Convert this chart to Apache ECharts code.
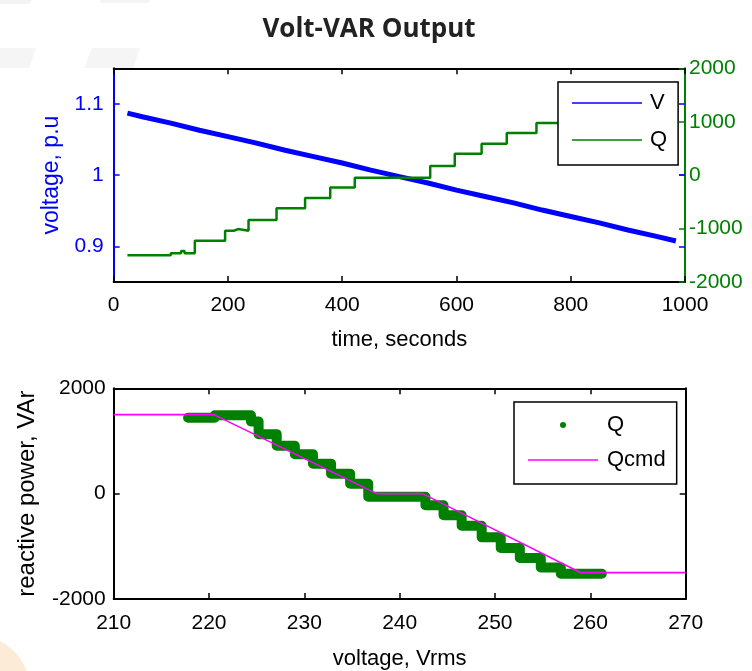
<!DOCTYPE html>
<html><head><meta charset="utf-8">
<script src="https://cdn.jsdelivr.net/npm/echarts@6/dist/echarts.min.js"></script>
<style>html,body{margin:0;padding:0;background:#fff}#chart{width:752px;height:671px}</style>
</head><body><div id="chart"></div>
<script>
// ---- Top plot: voltage (p.u.) and reactive power vs time ----
const vTime = [24, 50, 100, 150, 200, 250, 300, 350, 400, 450, 500, 550, 600, 650, 700, 750, 800, 850, 900, 950, 984];
const vPu   = [1.087, 1.082, 1.073, 1.063, 1.054, 1.045, 1.035, 1.026, 1.017, 1.007, 0.998, 0.989, 0.979, 0.970, 0.961, 0.951, 0.942, 0.933, 0.923, 0.914, 0.9075];
const qTime = [24, 100, 118, 124, 142, 195, 210, 218, 236, 285, 335, 379, 422, 554, 597, 644, 688, 740, 795, 850, 905, 950, 984];
const qVar  = [-1500, -1460, -1420, -1460, -1230, -1040, -1010, -1040, -840, -620, -430, -230, -50, 170, 400, 590, 790, 975, 1130, 1300, 1450, 1500, 1500];
const voltTicks = [0.9, 1, 1.1];

// ---- Bottom plot: Q vs voltage (Vrms) ----
const qStepFrom  = [261.2, 256.9, 254.8, 252.6, 250.6, 248.6, 246.5, 244.6, 242.7, 236.7, 234.8, 232.8, 230.9, 229.0, 227.1, 225.2, 224.4, 220.6];
const qStepTo    = [256.9, 254.8, 252.6, 250.6, 248.6, 246.5, 244.6, 242.7, 236.7, 234.8, 232.8, 230.9, 229.0, 227.1, 225.2, 224.4, 220.6, 217.8];
const qStepLevel = [-1520, -1400, -1220, -1030, -830, -610, -410, -220, -60, 190, 380, 570, 750, 910, 1130, 1370, 1490, 1440];
const qcmdVolt = [210, 220.5, 237.6, 242.4, 259.0, 270];
const qcmdVar  = [1500, 1500, 0, 0, -1500, -1500];

const BLUE = '#0000ff', GREEN = '#008000', MAG = '#ff00ff', BLACK = '#000000';
const FONT = 'Liberation Sans, Arial, sans-serif';
const LINE_ICON = 'path://M0,0H70V1.6H0Z';

const vData = vTime.map((t, i) => [t, vPu[i]]);
const qTopData = qTime.map((t, i) => [t, qVar[i]]);
const qBotData = [];
qStepLevel.forEach((lvl, i) => { qBotData.push([qStepFrom[i], lvl]); qBotData.push([qStepTo[i], lvl]); });
const qcmdData = qcmdVolt.map((v, i) => [v, qcmdVar[i]]);

const plain = v => String(v);
function tick(color) { return { show: true, inside: true, length: 6, lineStyle: { color: color, width: 1.5 } }; }
function label(color, margin) { return { color: color, fontSize: 21, fontFamily: FONT, margin: margin, formatter: plain }; }
function line(color) { return { onZero: false, lineStyle: { color: color, width: 2 } }; }
function nameStyle(color, size) { return { fontSize: size, fontFamily: FONT, color: color }; }

const option = {
  backgroundColor: '#ffffff',
  animation: false,
  title: {
    text: 'Volt-VAR Output', left: 364, top: 12, textAlign: 'center',
    textStyle: { fontSize: 26, fontWeight: 'bold', fontFamily: 'Open Sans, sans-serif', color: '#222222' }
  },
  graphic: [
    { type: 'circle', shape: { cx: -25, cy: 690, r: 55 }, style: { fill: '#fcebd6' }, silent: true, z: -10 },
    { type: 'polygon', shape: { points: [[0, 0], [32, 0], [29, 4], [0, 4]] }, style: { fill: '#f4f4f4' }, silent: true, z: -10 },
    { type: 'polygon', shape: { points: [[100, 0], [150, 0], [148, 3], [101, 3]] }, style: { fill: '#f4f4f4' }, silent: true, z: -10 },
    { type: 'polygon', shape: { points: [[0, 48], [36, 48], [29, 68], [0, 68]] }, style: { fill: '#f5f5f5' }, silent: true, z: -10 },
    { type: 'polygon', shape: { points: [[92, 48], [140, 48], [133, 68], [84, 68]] }, style: { fill: '#f5f5f5' }, silent: true, z: -10 }
  ],
  grid: [
    { left: 113.7, top: 68.3, width: 571.3, height: 213.7 },
    { left: 113.7, top: 388.3, width: 572, height: 213.4 }
  ],
  xAxis: [
    { gridIndex: 0, type: 'value', position: 'bottom', min: 0, max: 1000, interval: 200,
      axisLine: line(BLACK), axisTick: tick(BLACK), axisLabel: label(BLACK, 13),
      splitLine: { show: false },
      name: 'time, seconds', nameLocation: 'middle', nameGap: 47, nameTextStyle: nameStyle(BLACK, 22) },
    { gridIndex: 0, type: 'value', position: 'top', min: 0, max: 1000, interval: 200,
      axisLine: line(BLACK), axisTick: tick(BLACK), axisLabel: { show: false }, splitLine: { show: false } },
    { gridIndex: 1, type: 'value', position: 'bottom', min: 210, max: 270, interval: 10,
      axisLine: line(BLACK), axisTick: tick(BLACK), axisLabel: label(BLACK, 14),
      splitLine: { show: false },
      name: 'voltage, Vrms', nameLocation: 'middle', nameGap: 49, nameTextStyle: nameStyle(BLACK, 22) },
    { gridIndex: 1, type: 'value', position: 'top', min: 210, max: 270, interval: 10,
      axisLine: line(BLACK), axisTick: tick(BLACK), axisLabel: { show: false }, splitLine: { show: false } }
  ],
  yAxis: [
    { gridIndex: 0, type: 'value', position: 'left', min: 0.85, max: 1.15,
      axisLine: line(BLUE),
      axisTick: Object.assign(tick(BLUE), { customValues: voltTicks }),
      axisLabel: Object.assign(label(BLUE, 10), { customValues: voltTicks }),
      splitLine: { show: false },
      name: 'voltage, p.u', nameLocation: 'middle', nameGap: 50, nameTextStyle: nameStyle(BLUE, 23) },
    { gridIndex: 0, type: 'value', position: 'right', min: -2000, max: 2000, interval: 1000,
      axisLine: line(GREEN), axisTick: tick(GREEN), axisLabel: label(GREEN, 4), splitLine: { show: false } },
    { gridIndex: 0, type: 'value', position: 'right', min: 0.85, max: 1.15,
      axisLine: { show: false, onZero: false },
      axisTick: Object.assign(tick(BLUE), { customValues: voltTicks }),
      axisLabel: { show: false }, splitLine: { show: false } },
    { gridIndex: 1, type: 'value', position: 'left', min: -2000, max: 2000, interval: 2000,
      axisLine: line(BLACK), axisTick: tick(BLACK), axisLabel: label(BLACK, 8),
      splitLine: { show: false },
      name: 'reactive power, VAr', nameLocation: 'middle', nameGap: 74, nameTextStyle: nameStyle(BLACK, 24) },
    { gridIndex: 1, type: 'value', position: 'right', min: -2000, max: 2000, interval: 2000,
      axisLine: line(BLACK), axisTick: tick(BLACK), axisLabel: { show: false }, splitLine: { show: false } }
  ],
  legend: [
    { orient: 'vertical', left: 558, top: 82, padding: [10, 11, 14, 14], itemGap: 15,
      itemWidth: 70, itemHeight: 6, backgroundColor: '#fff', borderColor: BLACK, borderWidth: 1.5,
      selectedMode: false,
      textStyle: { fontSize: 22, fontFamily: FONT, color: BLACK, lineHeight: 22, padding: [0, 0, 0, 3] },
      data: [
        { name: 'V', icon: LINE_ICON, itemStyle: { color: BLUE, borderWidth: 0 } },
        { name: 'Q', icon: LINE_ICON, itemStyle: { color: GREEN, borderWidth: 0 } }
      ] },
    { orient: 'vertical', left: 514, top: 402, padding: [12, 11, 13, 14], itemGap: 13,
      itemWidth: 70, itemHeight: 6, backgroundColor: '#fff', borderColor: BLACK, borderWidth: 1.5,
      selectedMode: false,
      textStyle: { fontSize: 22, fontFamily: FONT, color: BLACK, lineHeight: 22, padding: [0, 0, 0, 4] },
      data: [
        { name: 'Q', icon: 'circle', itemStyle: { color: GREEN, borderWidth: 0 } },
        { name: 'Qcmd', icon: LINE_ICON, itemStyle: { color: MAG, borderWidth: 0 } }
      ] }
  ],
  series: [
    { name: 'V', type: 'line', xAxisIndex: 0, yAxisIndex: 0, data: vData, symbol: 'none',
      lineStyle: { color: BLUE, width: 5 }, itemStyle: { color: BLUE }, z: 2 },
    { name: 'Q', type: 'line', xAxisIndex: 0, yAxisIndex: 1, data: qTopData, step: 'end', symbol: 'none',
      lineStyle: { color: GREEN, width: 2.5 }, itemStyle: { color: GREEN }, z: 3 },
    { name: 'Q', type: 'line', xAxisIndex: 2, yAxisIndex: 3, data: qBotData, symbol: 'none',
      lineStyle: { color: GREEN, width: 10, cap: 'round', join: 'round' }, itemStyle: { color: GREEN }, z: 2 },
    { name: 'Qcmd', type: 'line', xAxisIndex: 2, yAxisIndex: 3, data: qcmdData, symbol: 'none',
      lineStyle: { color: MAG, width: 1.6 }, itemStyle: { color: MAG }, z: 3 }
  ]
};
const chart = echarts.init(document.getElementById('chart'));
chart.setOption(option);
</script></body></html>
